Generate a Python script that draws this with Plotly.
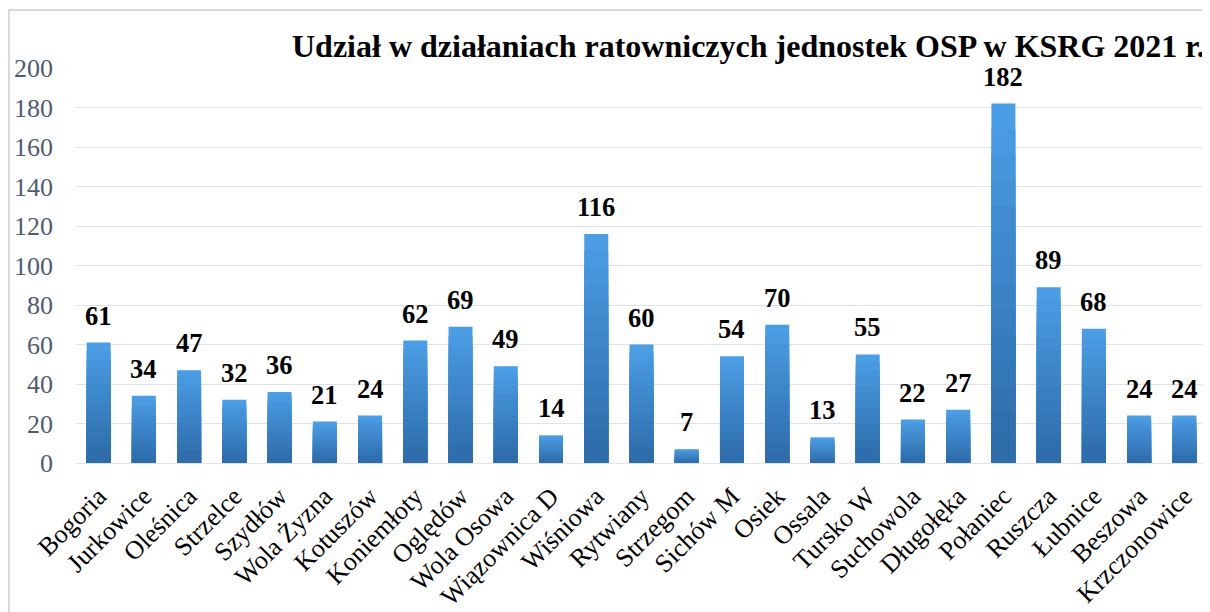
import plotly.graph_objects as go

categories = ["Bogoria", "Jurkowice", "Oleśnica", "Strzelce", "Szydłów", "Wola Żyzna",
              "Kotuszów", "Koniemłoty", "Oględów", "Wola Osowa", "Wiązownica D", "Wiśniowa",
              "Rytwiany", "Strzegom", "Sichów M", "Osiek", "Ossala", "Tursko W", "Suchowola",
              "Długołęka", "Połaniec", "Ruszcza", "Łubnice", "Beszowa", "Krzczonowice"]
values = [61, 34, 47, 32, 36, 21, 24, 62, 69, 49, 14, 116, 60, 7, 54, 70, 13, 55, 22,
          27, 182, 89, 68, 24, 24]
y_ticks = [0, 20, 40, 60, 80, 100, 120, 140, 160, 180, 200]
title_text = "Udział w działaniach ratowniczych jednostek OSP w KSRG 2021 r."

SERIF = "Liberation Serif, Times New Roman, serif"

fig = go.Figure()

# gradient effect: stacked overlays, light at top -> dark at bottom
top_rgb = (75, 157, 228)
bot_rgb = (46, 108, 170)
N = 14
for k in range(N):
    f = 1 - k / N
    t = k / (N - 1)
    c = tuple(int(top_rgb[i] + (bot_rgb[i] - top_rgb[i]) * t) for i in range(3))
    fig.add_trace(go.Bar(
        x=categories, y=[v * f for v in values],
        marker=dict(color="rgb(%d,%d,%d)" % c, line=dict(width=0)),
        hoverinfo="skip", showlegend=False,
    ))

for cat, v in zip(categories, values):
    fig.add_annotation(x=cat, y=v, text=str(v), showarrow=False, xanchor="center",
                       yanchor="bottom", yshift=10,
                       font=dict(family=SERIF, size=26.5, color="black", weight="bold"))

fig.update_layout(
    width=1210, height=612,
    barmode="overlay", bargap=0.47,
    plot_bgcolor="white", paper_bgcolor="white",
    margin=dict(l=68, r=11, t=60, b=157, autoexpand=False),
    xaxis=dict(tickangle=-45, tickfont=dict(family=SERIF, size=26, color="black"),
               showgrid=False, showline=False, ticks="", automargin=False,
               ticklabelstandoff=12,
               range=[-0.5, len(categories) - 0.5]),
    yaxis=dict(range=[0, 200], tickvals=y_ticks, showgrid=True, gridcolor="#dde3ec",
               gridwidth=1, zeroline=True, zerolinecolor="#dde3ec", zerolinewidth=1,
               tickfont=dict(family=SERIF, size=26, color="#4f5b70"),
               ticklabelstandoff=22, automargin=False),
)

fig.add_annotation(text=title_text, xref="paper", yref="paper", x=1.0, y=1.005,
                   xanchor="right", yanchor="bottom", showarrow=False,
                   font=dict(family=SERIF, size=32, color="black", weight="bold"))

fig.add_shape(type="rect", xref="paper", yref="paper",
              x0=-0.0592, x1=1.05, y0=-0.5, y1=1.147,
              line=dict(color="#d9d9d9", width=2), fillcolor="rgba(0,0,0,0)", layer="below")

fig.write_html("out.html")
